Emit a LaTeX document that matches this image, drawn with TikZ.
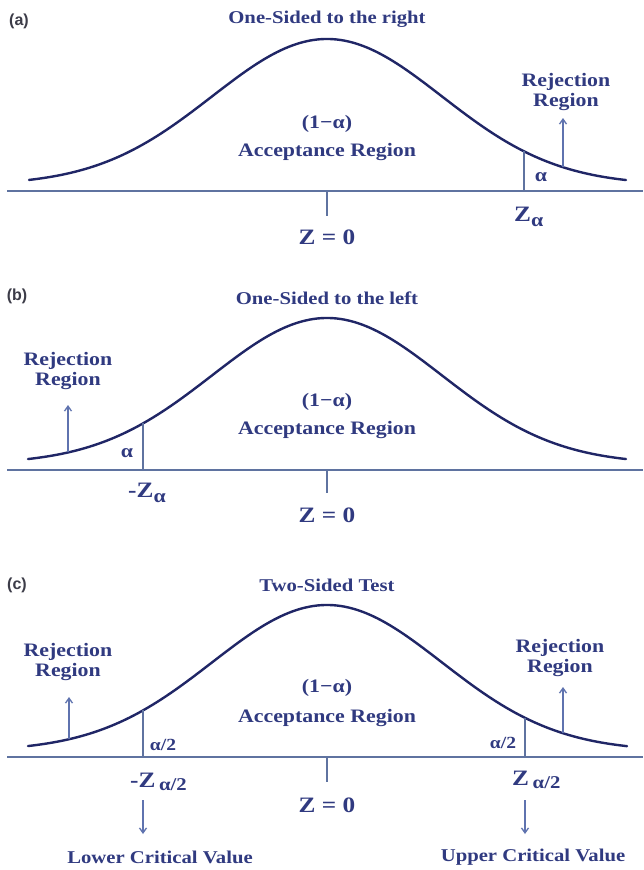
\documentclass[tikz,border=0pt]{standalone}
\usepackage{fontspec}
\setmainfont[FakeStretch=1.15]{Liberation Serif}
\newfontfamily\labelfont{Liberation Sans}
\usetikzlibrary{arrows.meta}
\definecolor{txtblue}{RGB}{48,58,128}
\definecolor{curveblue}{RGB}{32,38,102}
\definecolor{axisblue}{RGB}{95,115,160}
\definecolor{arrowblue}{RGB}{95,115,175}
\definecolor{labgray}{RGB}{60,60,72}
\newcommand{\gbell}[1]{146*exp(-0.5*((#1-327)/115)^2)}
\begin{document}
\begin{tikzpicture}[x=1pt,y=-1pt,
  curve/.style={draw=curveblue, line width=2.4pt, line cap=round},
  axisline/.style={draw=axisblue, line width=1.8pt},
  critline/.style={draw=axisblue, line width=1.5pt},
  tickline/.style={draw=axisblue, line width=1.5pt},
  uparrow/.style={draw=arrowblue, line width=1.3pt, -{Straight Barb[length=5pt,width=7pt]}},
  txt/.style={text=txtblue, inner sep=0pt, align=center, font=\bfseries\fontsize{19}{20}\selectfont},
  ttl/.style={txt, font=\bfseries\fontsize{18}{20}\selectfont},
  zlab/.style={txt, font=\bfseries\fontsize{22}{22}\selectfont},
  alab/.style={txt, font=\bfseries\fontsize{19}{19}\selectfont},
  hlab/.style={txt, font=\bfseries\fontsize{17}{17}\selectfont},
  plab/.style={text=labgray, inner sep=0pt, font=\labelfont\bfseries\fontsize{16}{16}\selectfont},
]
\useasboundingbox[fill=white] (0,0) rectangle (643,870);

% ---------------- panel (a)
\node[plab] (a_lab) at (19,21) {(a)};
\node[ttl] (a_title) at (327,19) {One-Sided to the right};
\coordinate (a_ax0) at (7,191);
\coordinate (a_ax1) at (643,191);
\draw[axisline] (a_ax0) -- (a_ax1);
\draw[curve] plot[domain=29:626, samples=160, smooth] (\x,{185-\gbell{\x}});
\coordinate (a_t0) at (327,191);
\coordinate (a_t1) at (327,216);
\draw[tickline] (a_t0) -- (a_t1);
\node[txt] (a_one) at (327,124) {(1−α)};
\node[txt] (a_acc) at (327,152) {Acceptance Region};
\node[txt] (a_rej) at (566,92) {Rejection\\Region};
\coordinate (a_arr0) at (563,{185-\gbell{563}});
\coordinate (a_arr1) at (563,118);
\draw[uparrow] (a_arr0) -- (a_arr1);
\coordinate (a_cb) at (524,191);
\coordinate (a_ct) at (524,{185-\gbell{524}});
\draw[critline] (a_cb) -- (a_ct);
\node[alab] (a_alpha) at (541,177) {α};
\node[zlab, anchor=base west] (a_z) at (514,221) {Z\raisebox{-5pt}{\fontsize{19}{19}\selectfont α}};
\node[zlab] (a_z0) at (327,237) {Z = 0};

% ---------------- panel (b)
\node[plab] (b_lab) at (17,296) {(b)};
\node[ttl] (b_title) at (327,298) {One-Sided to the left};
\coordinate (b_ax0) at (7,470);
\coordinate (b_ax1) at (643,470);
\draw[axisline] (b_ax0) -- (b_ax1);
\draw[curve] plot[domain=28:626, samples=160, smooth] (\x,{464-\gbell{\x}});
\coordinate (b_t0) at (327,470);
\coordinate (b_t1) at (327,493);
\draw[tickline] (b_t0) -- (b_t1);
\node[txt] (b_one) at (327,402) {(1−α)};
\node[txt] (b_acc) at (327,430) {Acceptance Region};
\node[txt] (b_rej) at (68,371) {Rejection\\Region};
\coordinate (b_arr0) at (68,{464-\gbell{68}});
\coordinate (b_arr1) at (68,405);
\draw[uparrow] (b_arr0) -- (b_arr1);
\coordinate (b_cb) at (143,470);
\coordinate (b_ct) at (143,{464-\gbell{143}});
\draw[critline] (b_cb) -- (b_ct);
\node[alab] (b_alpha) at (127,453) {α};
\node[zlab, anchor=base west] (b_z) at (128,497) {-Z\raisebox{-5pt}{\fontsize{19}{19}\selectfont α}};
\node[zlab] (b_z0) at (327,515) {Z = 0};

% ---------------- panel (c)
\node[plab] (c_lab) at (17,585) {(c)};
\node[ttl] (c_title) at (327,585) {Two-Sided Test};
\coordinate (c_ax0) at (7,757);
\coordinate (c_ax1) at (643,757);
\draw[axisline] (c_ax0) -- (c_ax1);
\draw[curve] plot[domain=28:627, samples=160, smooth] (\x,{751-\gbell{\x}});
\coordinate (c_t0) at (327,757);
\coordinate (c_t1) at (327,782);
\draw[tickline] (c_t0) -- (c_t1);
\node[txt] (c_one) at (327,688) {(1−α)};
\node[txt] (c_acc) at (327,718) {Acceptance Region};
\node[txt] (c_rejl) at (68,662) {Rejection\\Region};
\node[txt] (c_rejr) at (560,658) {Rejection\\Region};
\coordinate (c_arl0) at (69,{751-\gbell{69}});
\coordinate (c_arl1) at (69,697);
\draw[uparrow] (c_arl0) -- (c_arl1);
\coordinate (c_arr0) at (563,{751-\gbell{563}});
\coordinate (c_arr1) at (563,687);
\draw[uparrow] (c_arr0) -- (c_arr1);
\coordinate (c_clb) at (143,757);
\coordinate (c_clt) at (143,{751-\gbell{143}});
\draw[critline] (c_clb) -- (c_clt);
\coordinate (c_crb) at (525,757);
\coordinate (c_crt) at (525,{751-\gbell{525}});
\draw[critline] (c_crb) -- (c_crt);
\node[hlab] (c_al) at (163,745) {α/2};
\node[hlab] (c_ar) at (503,743) {α/2};
\node[zlab, anchor=base west] (c_zl) at (130,787) {-Z\,\raisebox{-3pt}{\fontsize{18}{18}\selectfont α/2}};
\node[zlab, anchor=base west] (c_zr) at (512,785) {Z\,\raisebox{-3pt}{\fontsize{18}{18}\selectfont α/2}};
\coordinate (c_dl0) at (143,800);
\coordinate (c_dl1) at (143,834);
\draw[uparrow] (c_dl0) -- (c_dl1);
\coordinate (c_dr0) at (525,800);
\coordinate (c_dr1) at (525,834);
\draw[uparrow] (c_dr0) -- (c_dr1);
\node[ttl] (c_low) at (160,857) {Lower Critical Value};
\node[ttl] (c_up) at (533,857) {Upper Critical Value};
\node[zlab] (c_z0) at (327,805) {Z = 0};
\end{tikzpicture}
\end{document}
